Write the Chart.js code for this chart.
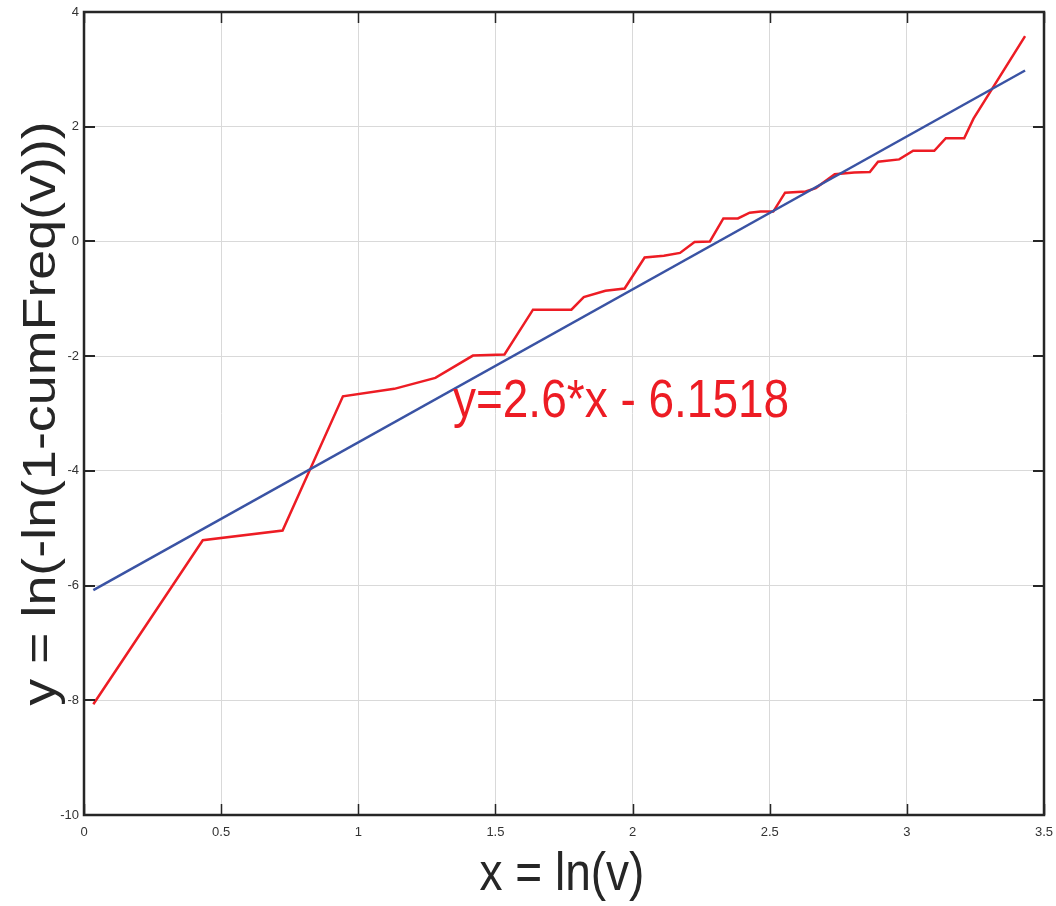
<!DOCTYPE html>
<html>
<head>
<meta charset="utf-8">
<script src="https://cdn.jsdelivr.net/npm/chart.js@4"></script>
<style>
  html, body { margin: 0; padding: 0; background: #fff; }
  #wrap { width: 1056px; height: 906px; }
</style>
</head>
<body>
<div id="wrap"><canvas id="weibullChart"></canvas></div>
<script>
// observed points, x = ln(v), y = ln(-ln(1-cumFreq(v)))
const obsX = [0.034, 0.433, 0.724, 0.944, 1.131, 1.281, 1.418, 1.533, 1.637, 1.777,
  1.822, 1.901, 1.971, 2.044, 2.114, 2.173, 2.226, 2.282, 2.331, 2.384,
  2.427, 2.467, 2.513, 2.556, 2.631, 2.668, 2.737, 2.808, 2.865, 2.895,
  2.972, 3.023, 3.100, 3.142, 3.209, 3.243, 3.431];
const obsY = [-8.07, -5.21, -5.04, -2.70, -2.57, -2.38, -1.99, -1.97, -1.19, -1.19,
  -0.97, -0.86, -0.82, -0.28, -0.25, -0.20, -0.01, 0.00, 0.40, 0.40,
  0.50, 0.52, 0.52, 0.85, 0.87, 0.93, 1.17, 1.20, 1.21, 1.39,
  1.43, 1.58, 1.58, 1.80, 1.80, 2.14, 3.58];

// fitted line end points
const fitX = [0.034, 3.431];
const fitY = [-6.08, 2.98];

const fitLabel = "y=2.6*x - 6.1518";
const xTitle = "x = ln(v)";
const yTitle = "y = ln(-ln(1-cumFreq(v)))";

const xRange = [0, 3.5];
const yRange = [-10, 4];

const FONT = "'Liberation Sans', Arial, sans-serif";
const RED = "#ed1c24";
const BLUE = "#3a53a4";
const DARK = "#262626";
const STRETCH = 1.17; // source figure text is a bit tall

function toPoints(xs, ys) {
  return xs.map((v, i) => ({ x: v, y: ys[i] }));
}

// box around the plot, inward ticks, axis titles and the equation text
const framePlugin = {
  id: "frame",
  afterDatasetsDraw(chart) {
    const { ctx, chartArea: a, scales } = chart;
    const x = scales.x;
    const y = scales.y;
    const tick = 11;
    ctx.save();
    ctx.strokeStyle = DARK;
    ctx.lineWidth = 1.5;
    x.ticks.forEach((t) => {
      const px = Math.round(x.getPixelForValue(t.value)) + 0.5;
      ctx.beginPath();
      ctx.moveTo(px, a.bottom);
      ctx.lineTo(px, a.bottom - tick);
      ctx.moveTo(px, a.top);
      ctx.lineTo(px, a.top + tick);
      ctx.stroke();
    });
    ctx.lineWidth = 2;
    y.ticks.forEach((t) => {
      const py = Math.round(y.getPixelForValue(t.value));
      ctx.beginPath();
      ctx.moveTo(a.left, py);
      ctx.lineTo(a.left + tick, py);
      ctx.moveTo(a.right, py);
      ctx.lineTo(a.right - tick, py);
      ctx.stroke();
    });
    ctx.lineWidth = 2.5;
    ctx.strokeRect(a.left, a.top, a.right - a.left, a.bottom - a.top);
    ctx.restore();

    ctx.save();
    ctx.font = "46px " + FONT;
    ctx.textBaseline = "middle";

    // equation of the fit
    ctx.save();
    ctx.translate(x.getPixelForValue(1.345), y.getPixelForValue(-2.81));
    ctx.scale(1, STRETCH);
    ctx.fillStyle = RED;
    ctx.textAlign = "left";
    ctx.fillText(fitLabel, 0, 0);
    ctx.restore();

    // x title
    ctx.save();
    ctx.translate((a.left + a.right) / 2 - 2, a.bottom + 60);
    ctx.scale(1, STRETCH);
    ctx.fillStyle = DARK;
    ctx.textAlign = "center";
    ctx.fillText(xTitle, 0, 0);
    ctx.restore();

    // y title
    ctx.save();
    ctx.translate(42, (a.top + a.bottom) / 2);
    ctx.rotate(-Math.PI / 2);
    ctx.scale(STRETCH, 1);
    ctx.fillStyle = DARK;
    ctx.textAlign = "center";
    ctx.fillText(yTitle, 0, 0);
    ctx.restore();

    ctx.restore();
  },
};

const ctx = document.getElementById("weibullChart").getContext("2d");

new Chart(ctx, {
  type: "scatter",
  data: {
    datasets: [
      {
        label: "fit",
        data: toPoints(fitX, fitY),
        showLine: true,
        borderColor: BLUE,
        borderWidth: 2.5,
        pointRadius: 0,
      },
      {
        label: "observed",
        data: toPoints(obsX, obsY),
        showLine: true,
        borderColor: RED,
        borderWidth: 2.5,
        pointRadius: 0,
      },
    ],
  },
  options: {
    responsive: true,
    maintainAspectRatio: false,
    animation: false,
    layout: {
      padding: { top: 12, right: 12, left: 0, bottom: 0 },
    },
    plugins: {
      legend: { display: false },
      tooltip: { enabled: false },
    },
    scales: {
      x: {
        type: "linear",
        min: xRange[0],
        max: xRange[1],
        afterFit: (s) => {
          s.height = 91;
          s.paddingLeft = 0;
          s.paddingRight = 0;
        },
        ticks: {
          stepSize: 0.5,
          color: "#333",
          padding: 10,
          maxRotation: 0,
          callback: (v) => String(v),
          font: { family: FONT, size: 13 },
        },
        grid: { color: "#d9d9d9", lineWidth: 1, drawTicks: false },
        border: { display: false },
      },
      y: {
        type: "linear",
        min: yRange[0],
        max: yRange[1],
        afterFit: (s) => {
          s.width = 84;
          s.paddingTop = 0;
          s.paddingBottom = 0;
        },
        ticks: {
          stepSize: 2,
          color: "#333",
          padding: 5,
          callback: (v) => String(v),
          font: { family: FONT, size: 13 },
        },
        grid: { color: "#d9d9d9", lineWidth: 1, drawTicks: false },
        border: { display: false },
      },
    },
  },
  plugins: [framePlugin],
});
</script>
</body>
</html>
